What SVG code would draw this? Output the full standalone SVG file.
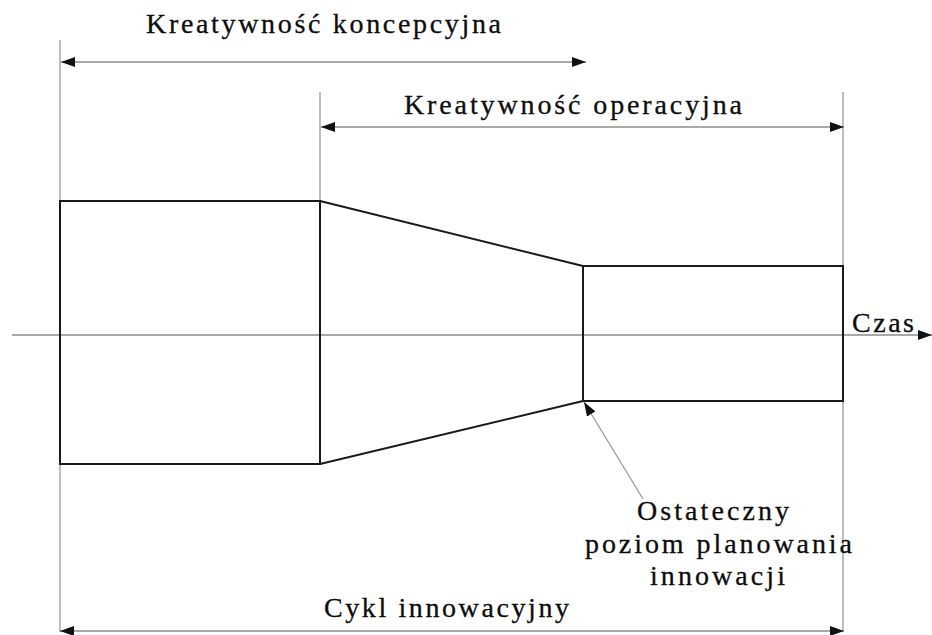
<svg xmlns="http://www.w3.org/2000/svg" width="932" height="635" viewBox="0 0 932 635">
  <defs>
    <marker id="arrow" viewBox="0 0 14 10" refX="14" refY="5" markerWidth="14" markerHeight="10" markerUnits="userSpaceOnUse" orient="auto-start-reverse">
      <path d="M0,0 L14,5 L0,10 Z" fill="#111"/>
    </marker>
    <style>
      .guide { stroke: #9a9a9a; stroke-width: 1.3; fill: none; }
      .dim { stroke: #8c8c8c; stroke-width: 1.5; fill: none; }
      .shape { stroke: #1a1a1a; stroke-width: 2; fill: none; }
      .label { font-family: 'Liberation Serif', 'Times New Roman', 'DejaVu Serif', serif; font-size: 28px; fill: #0d0d0d; stroke: #0d0d0d; stroke-width: 0.3; }
    </style>
  </defs>
  <rect width="932" height="635" fill="#fff"/>

  <!-- extension lines and time axis -->
  <g id="connectors">
    <line class="guide" x1="60" y1="40" x2="60" y2="632"/>
    <line class="guide" x1="320" y1="92" x2="320" y2="201"/>
    <line class="guide" x1="843" y1="92" x2="843" y2="632"/>
    <line class="dim" x1="12" y1="335" x2="932" y2="335" marker-end="url(#arrow)"/>
    <line class="dim" x1="61" y1="62" x2="586" y2="62" marker-start="url(#arrow)" marker-end="url(#arrow)"/>
    <line class="dim" x1="321" y1="127" x2="844" y2="127" marker-start="url(#arrow)" marker-end="url(#arrow)"/>
    <line class="dim" x1="60" y1="631" x2="844" y2="631" marker-start="url(#arrow)" marker-end="url(#arrow)"/>
    <line class="guide" x1="643" y1="499" x2="584" y2="402" marker-end="url(#arrow)"/>
  </g>

  <!-- funnel body -->
  <g id="conceptual-block">
    <rect class="shape" x="60" y="201" width="260" height="263"/>
  </g>
  <g id="narrowing">
    <path class="shape" d="M320,201 L583,266 M320,464 L583,401"/>
  </g>
  <g id="operational-block">
    <rect class="shape" x="583" y="266" width="260" height="135"/>
  </g>

  <!-- labels -->
  <g id="label-conceptual">
    <text class="label" x="146" y="33" textLength="355" lengthAdjust="spacing">Kreatywność koncepcyjna</text>
  </g>
  <g id="label-operational">
    <text class="label" x="404" y="114" textLength="338" lengthAdjust="spacing">Kreatywność operacyjna</text>
  </g>
  <g id="label-time">
    <text class="label" x="852" y="332" textLength="62" lengthAdjust="spacing">Czas</text>
  </g>
  <g id="label-final-level">
    <text class="label" x="637" y="520" textLength="152" lengthAdjust="spacing">Ostateczny</text>
    <text class="label" x="585" y="553" textLength="267" lengthAdjust="spacing">poziom planowania</text>
    <text class="label" x="650" y="585" textLength="135" lengthAdjust="spacing">innowacji</text>
  </g>
  <g id="label-cycle">
    <text class="label" x="324" y="617" textLength="245" lengthAdjust="spacing">Cykl innowacyjny</text>
  </g>
</svg>
